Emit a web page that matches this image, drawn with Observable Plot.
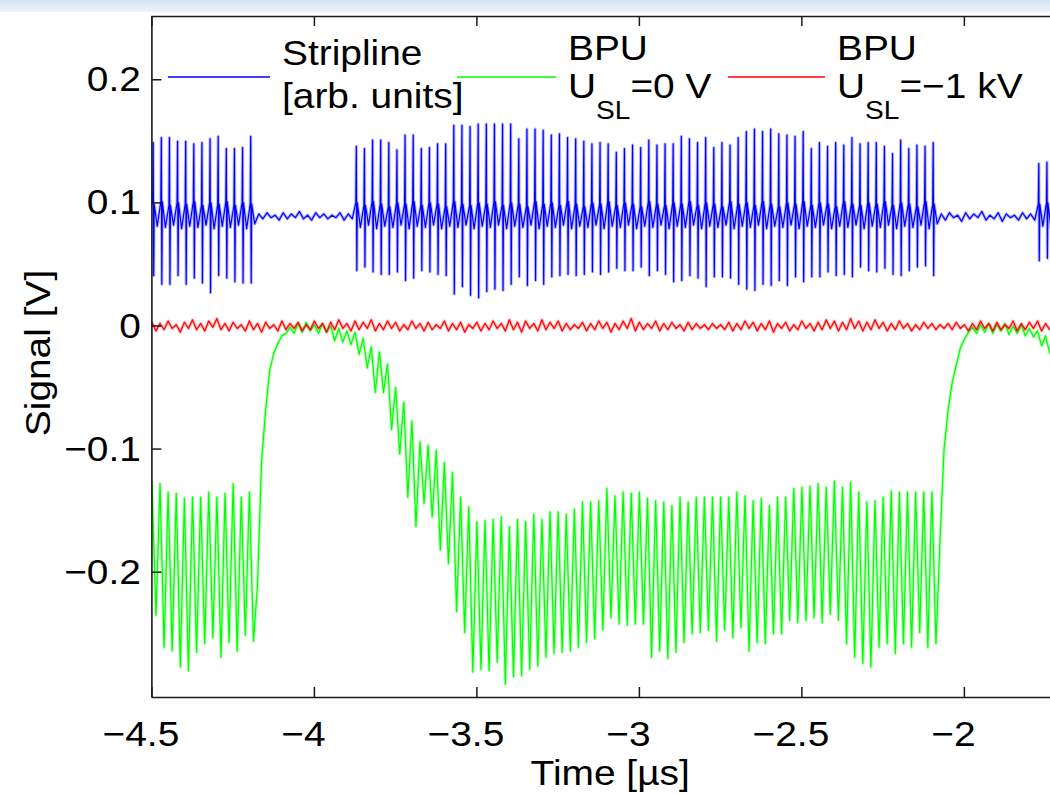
<!DOCTYPE html>
<html><head><meta charset="utf-8">
<script src="https://cdn.jsdelivr.net/npm/d3@7"></script>
<script src="https://cdn.jsdelivr.net/npm/@observablehq/plot@0.6"></script>
<style>
html,body{margin:0;padding:0;background:#fff;}
#wrap{position:relative;width:1050px;height:795px;overflow:hidden;background:#fff;}
#band{position:absolute;left:0;top:0;width:1050px;height:12px;background:linear-gradient(#d3e2f4,#edf3fa);}
#chart{position:absolute;left:0;top:0;}
</style></head>
<body><div id="wrap"><div id="band"></div><div id="chart"></div></div>
<script>
// ---- axes ----
const xTicks = [-4.5, -4, -3.5, -3, -2.5, -2];
const xTickLabels = ["−4.5", "−4", "−3.5", "−3", "−2.5", "−2"];
const yTicks = [-0.2, -0.1, 0, 0.1, 0.2];
const yTickLabels = ["−0.2", "−0.1", "0", "0.1", "0.2"];
const xDomain = [-4.5, -1.735];
const yDomain = [-0.3018, 0.2514];
const xLabel = "Time [µs]";
const yLabel = "Signal [V]";

// ---- bunch pattern (25 ns spacing) ----
const firstBunch = -4.496;        // µs
const bunchSpacing = 0.025;       // µs
const slotCount = 111;
const trainStart = [0, 25, 109];  // slot index of first bunch of each train
const trainLength = [13, 72, 2];

// Stripline: peak / trough of each bunch (V, arb.)
const stripTop = [
  .149,.153,.153,.150,.150,.148,.149,.152,.154,.144,.144,.145,.154,
  .146,.144,.151,.151,.149,.143,.155,.155,.144,.145,.148,.148,
  .163,.163,.162,.164,.164,.164,.164,.164,.152,.160,.160,.159,.155,.156,.153,.152,.150,.148,.149,.148,
  .141,.144,.147,.145,.151,.147,.148,.148,.154,.152,.149,.153,.145,.149,.147,.153,.158,
  .160,.158,.160,.156,.155,.154,.158,.144,.149,.146,.149,.147,.153,.148,.149,.149,.146,.140,.151,.144,.147,.146,.149,
  .132,.133
];
const stripBot = [
  .041,.034,.034,.041,.034,.039,.035,.027,.041,.039,.036,.035,.035,
  .045,.048,.044,.042,.042,.044,.037,.039,.045,.044,.042,.041,
  .026,.032,.025,.023,.028,.030,.029,.034,.040,.033,.037,.034,.040,.041,.042,.041,.042,.044,.042,.044,
  .047,.045,.045,.048,.041,.045,.042,.036,.037,.041,.039,.032,.040,.040,.039,.034,.030,
  .029,.034,.033,.037,.033,.040,.036,.040,.040,.044,.041,.042,.040,.048,.045,.044,.047,.042,.041,.045,.048,.049,.041,
  .053,.055
];
// Stripline baseline, two samples per 25 ns slot (train 1, gap, train 2, gap, train 3)
const stripBase = [
  .099,.081, .101,.080, .098,.082, .100,.079, .099,.081, .101,.080,
  .098,.082, .100,.079, .099,.081, .101,.080, .098,.082, .100,.079,
  .099,.083,
  .091,.087, .092,.088, .090,.086, .092,.087, .091,.088, .093,.087,
  .090,.086, .092,.088, .091,.087, .090,.088, .092,.086, .091,.087,
  .100,.080, .098,.082, .101,.079, .099,.081, .097,.080, .100,.082,
  .099,.079, .101,.081, .098,.080, .100,.082, .099,.079, .097,.081,
  .101,.080, .099,.082, .098,.079, .100,.081, .099,.080, .101,.082,
  .098,.079, .100,.081, .099,.080, .097,.082, .101,.079, .099,.081,
  .100,.080, .098,.082, .101,.079, .099,.081, .097,.080, .100,.082,
  .099,.079, .101,.081, .098,.080, .100,.082, .099,.079, .097,.081,
  .101,.080, .099,.082, .098,.079, .100,.081, .099,.080, .101,.082,
  .098,.079, .100,.081, .099,.080, .097,.082, .101,.079, .099,.081,
  .100,.080, .098,.082, .101,.079, .099,.081, .097,.080, .100,.082,
  .099,.079, .101,.081, .098,.080, .100,.082, .099,.079, .097,.081,
  .101,.080, .099,.082, .098,.079, .100,.081, .099,.080, .101,.082,
  .098,.079, .100,.081, .099,.080, .097,.082, .101,.079, .099,.083,
  .091,.086, .092,.088, .090,.085, .092,.087, .091,.088, .093,.086,
  .090,.087, .092,.085, .091,.088, .090,.086, .092,.087, .091,.086,
  .099,.081, .100,.080
];

// BPU signals, two samples per slot (pre-bunch, post-bunch)
const sampleStart = -4.5;
const sampleStep = 0.0125;
const bpu0 = [
  -.126,-.235, -.128,-.261, -.135,-.264, -.136,-.277, -.140,-.280, -.139,-.265, -.139,-.258,
  -.135,-.253, -.139,-.269, -.136,-.257, -.128,-.264, -.139,-.251, -.135,-.256,
  -.210,-.110, -.068,-.036, -.022,-.014, -.008,-.006, -.001,-.006, .002,-.005, .003,-.004,
  .001,-.006, .002,-.005, .000,-.012, -.002,-.013, -.004,-.015,
  -.005,-.023, -.010,-.034, -.017,-.054, -.021,-.054, -.031,-.084, -.050,-.104, -.062,-.139,
  -.077,-.163, -.094,-.144, -.097,-.155, -.101,-.182, -.111,-.193, -.119,-.232, -.139,-.249,
  -.147,-.281, -.159,-.279, -.158,-.280, -.157,-.273, -.155,-.291, -.163,-.285, -.157,-.284,
  -.159,-.279, -.153,-.276, -.157,-.269, -.151,-.266, -.151,-.265, -.153,-.264, -.149,-.261,
  -.143,-.257, -.143,-.254, -.142,-.247, -.132,-.237, -.138,-.242, -.135,-.243, -.136,-.242,
  -.135,-.242, -.140,-.269, -.142,-.264, -.143,-.270, -.146,-.265, -.139,-.257, -.143,-.250,
  -.139,-.249, -.139,-.247, -.139,-.256, -.139,-.247, -.139,-.253, -.135,-.245, -.138,-.264,
  -.142,-.257, -.140,-.258, -.146,-.250, -.139,-.250, -.139,-.239, -.132,-.241, -.131,-.239,
  -.130,-.237, -.128,-.241, -.131,-.234, -.126,-.239, -.131,-.258, -.127,-.269, -.135,-.274,
  -.143,-.277, -.142,-.261, -.139,-.258, -.134,-.266, -.135,-.258, -.135,-.261, -.135,-.249,
  -.135,-.261, -.135,-.258,
  -.175,-.100, -.068,-.046, -.032,-.018, -.011,-.005, -.001,-.006, .001,-.005, .002,-.006,
  .001,-.004, .002,-.007, .000,-.006, .001,-.008, -.002,-.009, -.004,-.016, -.008,-.022
];
const bpu1kV = [
  .003,-.004, .002,-.003, .004,-.002, .001,-.005, .003,-.002, .005,-.003, .002,-.004, .004,-.001,
  .006,-.003, .002,-.004, .003,-.002, .001,-.004, .004,-.003, .002,-.005, .003,-.002, .001,-.004,
  .004,-.003, .002,-.002, .003,-.004, .001,-.003, .004,-.002, .002,-.005, .003,-.003, .005,-.002,
  .002,-.004, .004,-.003, .003,-.002, .005,-.004, .002,-.003, .004,-.002, .003,-.004, .001,-.003,
  .004,-.002, .002,-.004, .003,-.003, .001,-.002, .004,-.004, .002,-.003, .003,-.005, .001,-.002,
  .003,-.004, .002,-.003, .004,-.002, .002,-.004, .005,-.003, .003,-.005, .004,-.002, .002,-.004,
  .005,-.003, .003,-.002, .004,-.004, .002,-.003, .001,-.002, .003,-.004, .002,-.003, .004,-.002,
  .003,-.005, .002,-.003, .004,-.002, .006,-.004, .003,-.003, .002,-.002, .004,-.004, .002,-.003,
  .003,-.002, .001,-.004, .003,-.003, .002,-.002, .001,-.003, .002,-.002, .001,-.003, .003,-.004,
  .002,-.003, .004,-.002, .003,-.004, .002,-.003, .004,-.005, .002,-.002, .003,-.004, .001,-.003,
  .004,-.002, .002,-.004, .003,-.003, .005,-.002, .004,-.004, .003,-.003, .006,-.002, .004,-.004,
  .003,-.003, .005,-.002, .003,-.004, .002,-.003, .004,-.002, .002,-.004, .001,-.003, .003,-.002,
  .002,-.003, .001,-.002, .002,-.003, .003,-.002, .001,-.004, .002,-.003, .004,-.002, .002,-.004,
  .003,-.003, .001,-.002, .004,-.004, .002,-.003, .003,-.002, .004,-.004, .002,-.003
];

// legend
const legendText = [["Stripline", "[arb. units]"], ["BPU", "U", "SL", "=0 V"], ["BPU", "U", "SL", "=−1 kV"]];
const seriesColors = ["#0000ff", "#00ff00", "#ff0000"];

// ---- build line vertices ----
const filled = new Set();
trainStart.forEach((s, i) => { for (let k = s; k < s + trainLength[i]; k++) filled.add(k); });
const strip = [];
let b = 0;
for (let k = 0; k < slotCount; k++) {
  const t = firstBunch + bunchSpacing * k;
  const b0 = stripBase[2 * k], b1 = stripBase[2 * k + 1];
  if (filled.has(k)) {
    strip.push({t: t - 0.0015, v: b0}, {t, v: stripTop[b]}, {t: t + 0.0015, v: stripBot[b]}, {t: t + 0.003, v: b0});
    b++;
  } else {
    strip.push({t, v: b0});
  }
  strip.push({t: t + sampleStep, v: b1});
}
const green = bpu0.map((v, j) => ({t: sampleStart + sampleStep * j, v}));
const red = bpu1kV.map((v, j) => ({t: sampleStart + sampleStep * j, v}));

const FONT = "'Liberation Sans', Arial, Helvetica, sans-serif";
const AX = "#1a1a1a";
const STRETCH = " scale(1.08,1)";

function seriesMarks(data, color) {
  return [
    Plot.line(data, {x: "t", y: "v", stroke: color, strokeWidth: 3.2, strokeOpacity: 0.28, clip: true}),
    Plot.line(data, {x: "t", y: "v", stroke: color, strokeWidth: 1.2, clip: true})
  ];
}

const plot = Plot.plot({
  width: 1050, height: 795,
  marginLeft: 151.4, marginRight: 0, marginTop: 16, marginBottom: 98,
  x: {domain: xDomain},
  y: {domain: yDomain},
  style: {fontFamily: FONT, fontSize: "36px", color: "#000", background: "transparent", overflow: "visible"},
  marks: [
    ...seriesMarks(strip, seriesColors[0]),
    ...seriesMarks(green, seriesColors[1]),
    ...seriesMarks(red, seriesColors[2]),
    Plot.ruleX([xDomain[0]], {stroke: AX, strokeWidth: 1.6}),
    Plot.ruleY([yDomain[0], yDomain[1]], {stroke: AX, strokeWidth: 1.6}),
    Plot.tickX(xTicks, {x: d => d, insetTop: 671, stroke: AX, strokeWidth: 1.5}),
    Plot.tickX(xTicks, {x: d => d, insetBottom: 671, stroke: AX, strokeWidth: 1.5}),
    Plot.tickY(yTicks, {y: d => d, insetRight: 888.6, stroke: AX, strokeWidth: 1.5}),
    Plot.axisX(xTicks, {tickSize: 0, tickPadding: 23, tickFormat: (d, i) => xTickLabels[i], dx: -11, label: null, fontSize: 36}),
    Plot.axisY(yTicks, {tickSize: 0, tickPadding: 11, tickFormat: (d, i) => yTickLabels[i], label: null, fontSize: 36}),
    Plot.text([xLabel], {frameAnchor: "bottom", lineAnchor: "top", textAnchor: "middle", dy: 62, dx: 9, fontSize: 36}),
    Plot.text([yLabel], {frameAnchor: "left", textAnchor: "middle", rotate: -90, dx: -113, dy: -4, fontSize: 36})
  ]
});
document.getElementById("chart").appendChild(plot);

// slightly wide lettering, as in the original figure
d3.select(plot).selectAll("text").each(function() {
  const tr = this.getAttribute("transform");
  if (tr) this.setAttribute("transform", tr + STRETCH);
});

// legend (drawn in pixel space inside the axes box)
const svg = d3.select(plot);
const lg = svg.append("g").attr("font-family", FONT).attr("font-size", 36).attr("fill", "#000").attr("text-anchor", "start");
const lineY = 77;
const entries = [
  {x1: 168, x2: 270, tx: 282},
  {x1: 457, x2: 556, tx: 568},
  {x1: 728, x2: 825, tx: 837}
];
function placeText(x, y) {
  return lg.append("text").attr("transform", `translate(${x},${y})${STRETCH}`);
}
entries.forEach((e, i) => {
  lg.append("line").attr("x1", e.x1).attr("x2", e.x2).attr("y1", lineY).attr("y2", lineY)
    .attr("stroke", seriesColors[i]).attr("stroke-width", 1.4);
  const lab = legendText[i];
  if (i === 0) {
    placeText(e.tx, 65).text(lab[0]);
    placeText(e.tx, 108).text(lab[1]);
  } else {
    placeText(e.tx, 60).text(lab[0]);
    const t = placeText(e.tx, 98);
    t.append("tspan").text(lab[1]);
    t.append("tspan").attr("font-size", 26).attr("dy", 21).text(lab[2]);
    t.append("tspan").attr("dy", -21).text(lab[3]);
  }
});
</script>
</body></html>
